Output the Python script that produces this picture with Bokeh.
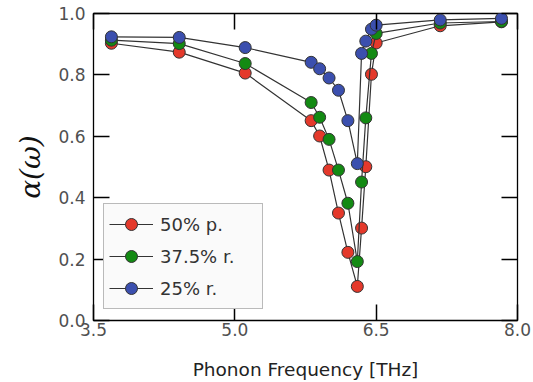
from bokeh.plotting import figure
from bokeh.models import (LinearAxis, FixedTicker, Range1d, Legend, LegendItem,
                          PrintfTickFormatter, CustomLabelingPolicy)
from bokeh.embed import file_html
from bokeh.resources import INLINE

# Data
freq = [3.69, 4.41, 5.11, 5.81, 5.90, 6.00, 6.10, 6.20, 6.30, 6.345, 6.39, 6.45, 6.50, 7.18, 7.83]
alpha_50p = [0.903, 0.874, 0.806, 0.651, 0.601, 0.490, 0.350, 0.222, 0.111, 0.301, 0.501, 0.802, 0.904, 0.960, 0.973]
alpha_375r = [0.913, 0.902, 0.837, 0.710, 0.662, 0.590, 0.490, 0.382, 0.192, 0.451, 0.660, 0.870, 0.935, 0.969, 0.974]
alpha_25r = [0.924, 0.922, 0.889, 0.841, 0.820, 0.790, 0.750, 0.651, 0.511, 0.870, 0.910, 0.949, 0.962, 0.979, 0.984]

series_labels = ["50% p.", "37.5% r.", "25% r."]
series_values = [alpha_50p, alpha_375r, alpha_25r]
series_colors = ["#e4392b", "#138a13", "#3b4fae"]

x_ticks = [3.5, 5.0, 6.5, 8.0]
y_ticks = [0.0, 0.2, 0.4, 0.6, 0.8, 1.0]

p = figure(width=533, height=382, output_backend="svg", toolbar_location=None,
           x_range=Range1d(3.5, 8.0), y_range=Range1d(0.0, 1.0),
           min_border_left=93, min_border_right=16, min_border_top=13, min_border_bottom=61)
p.background_fill_color = "white"
p.border_fill_color = "white"
p.outline_line_color = "black"
p.outline_line_width = 1.3
p.xgrid.visible = False
p.ygrid.visible = False

items = []
for lab, vals, col in zip(series_labels, series_values, series_colors):
    r1 = p.line(freq, vals, line_color="#333333", line_width=1.2)
    r2 = p.scatter(freq, vals, size=12, fill_color=col, line_color="#333333", line_width=1)
    items.append(LegendItem(label=lab, renderers=[r1, r2]))

hide_all = "const all = Array.from(indices); for (const i of all) { indices.unset(i) }; return indices"

def style_axis(ax, ticks, show_labels=True):
    ax.ticker = FixedTicker(ticks=ticks)
    ax.formatter = PrintfTickFormatter(format="%.1f")
    ax.major_tick_in = 16
    ax.major_tick_out = 0
    ax.minor_tick_in = 0
    ax.minor_tick_out = 0
    ax.major_tick_line_color = "black"
    ax.major_tick_line_width = 1.5
    ax.axis_line_color = None
    ax.major_label_text_font = "DejaVu Sans"
    if show_labels:
        ax.major_label_text_font_size = "17px"
        ax.major_label_text_color = "#505050"
    else:
        ax.major_label_text_font_size = "1px"
        ax.major_label_policy = CustomLabelingPolicy(code=hide_all)
        ax.major_label_standoff = 0

xa = p.xaxis[0]
ya = p.yaxis[0]
style_axis(xa, x_ticks)
style_axis(ya, y_ticks)
xa.major_label_standoff = 2
xa.major_label_text_line_height = 0.9
ya.major_label_standoff = 8

xa.axis_label = "Phonon Frequency [THz]"
xa.axis_label_text_font = "DejaVu Sans"
xa.axis_label_text_font_size = "18.5px"
xa.axis_label_text_font_style = "normal"
xa.axis_label_text_color = "#222222"
xa.axis_label_text_line_height = 0.9
xa.axis_label_standoff = 20

ya.axis_label = "α(ω)"
ya.axis_label_text_font = "DejaVu Serif"
ya.axis_label_text_font_size = "28px"
ya.axis_label_text_font_style = "italic"
ya.axis_label_text_color = "#111111"
ya.axis_label_standoff = 8

top = LinearAxis()
right = LinearAxis()
style_axis(top, x_ticks, False)
style_axis(right, y_ticks, False)
p.add_layout(top, "above")
p.add_layout(right, "right")

legend = Legend(items=items, location=(10, 11))
legend.label_text_font = "DejaVu Sans"
legend.label_text_font_size = "18px"
legend.label_text_color = "#333333"
legend.glyph_width = 44
legend.glyph_height = 30
legend.label_height = 30
legend.label_width = 97
legend.label_standoff = 7
legend.spacing = 2
legend.padding = 5
legend.margin = 0
legend.background_fill_color = "#fafafa"
legend.background_fill_alpha = 1.0
legend.border_line_color = "#7a7a7a"
legend.border_line_width = 1
p.add_layout(legend, "center")

open("out.html", "w").write(file_html(p, INLINE))
